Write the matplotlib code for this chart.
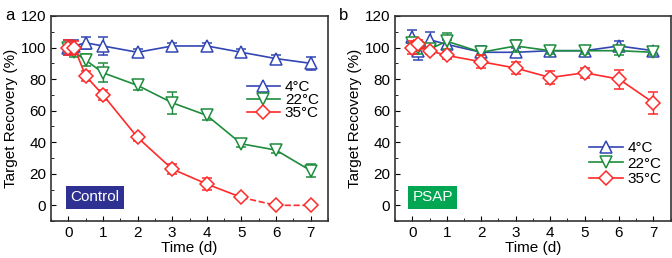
import numpy as np
import matplotlib.pyplot as plt

plt.rcParams['font.family'] = ['Liberation Sans', 'DejaVu Sans']
plt.rcParams['font.size'] = 11

days = [0, 0.17, 0.5, 1, 2, 3, 4, 5, 6, 7]
labels = ['4°C', '22°C', '35°C']

# panel a (Control)
a_4 = [100, 101, 103, 101, 97, 101, 101, 97, 93, 90]
a_4_err = [5, 4, 4, 6, 2, 2, 2, 2, 2, 4]
a_22 = [100, 97, 92, 84, 76, 65, 57, 39, 35, 22]
a_22_err = [3, 3, 4, 6, 3, 7, 3, 2, 2, 4]
a_35 = [100, 100, 82, 70, 43, 23, 13.5, 5, 0, 0]
a_35_err = [5, 4, 3, 3, 2, 3, 4, 1, 0.5, 0.5]

# panel b (PSAP)
b_4 = [107, 98, 105, 102, 97, 97, 98, 98, 101, 98]
b_4_err = [4, 6, 5, 3, 4, 3, 3, 2, 3, 2]
b_22 = [103, 100, 99, 104, 97, 101, 98, 98, 98, 97]
b_22_err = [3, 4, 3, 5, 2, 4, 2, 2, 3, 2]
b_35 = [100, 102, 98, 95, 91, 87, 81, 84, 80, 65]
b_35_err = [4, 3, 2, 2, 4, 4, 4, 3, 6, 7]

blue = '#3246b4'
green = '#1e8c3c'
red = '#ff2a2a'

fig = plt.figure(figsize=(6.72, 2.58), dpi=100)
ax1 = fig.add_axes([0.076, 0.143, 0.412, 0.795])
ax2 = fig.add_axes([0.588, 0.143, 0.41, 0.795])

ekw = dict(mfc='white', mew=1.1, lw=1.2, capsize=3.5, elinewidth=1, capthick=1)


def draw(ax, s4, e4, s22, e22, s35, e35, dashed_tail):
    ax.errorbar(days, s4, yerr=e4, color=blue, marker='^', ms=9, label=labels[0], zorder=3, **ekw)
    ax.errorbar(days, s22, yerr=e22, color=green, marker='v', ms=9, label=labels[1], zorder=4, **ekw)
    if dashed_tail:
        n = 8
        ax.errorbar(days[:n], s35[:n], yerr=e35[:n], color=red, marker='D', ms=7, label=labels[2],
                    zorder=5, **ekw)
        ax.plot(days[n - 1:], s35[n - 1:], color=red, ls='--', lw=1.2, zorder=4)
        ax.plot(days[n:], s35[n:], color=red, ls='none', marker='D', mfc='white', ms=7, mew=1.1, zorder=5)
    else:
        ax.errorbar(days, s35, yerr=e35, color=red, marker='D', ms=7, label=labels[2], zorder=5, **ekw)
    ax.set_xlim(-0.5, 7.5)
    ax.set_ylim(-10, 120)
    ax.set_xticks(range(8))
    ax.set_xticks(np.arange(-0.5, 7.6, 0.5), minor=True)
    ax.set_yticks(range(0, 121, 20))
    ax.set_yticks(range(-10, 121, 10), minor=True)
    ax.tick_params(direction='in', which='both', labelsize=11)
    ax.tick_params(which='major', length=3.5)
    ax.tick_params(which='minor', length=2)
    ax.set_xlabel('Time (d)', fontsize=11, labelpad=1)
    ax.set_ylabel('Target Recovery (%)', fontsize=11, labelpad=2)
    for sp in ax.spines.values():
        sp.set_linewidth(1.2)
        sp.set_color('#333333')


draw(ax1, a_4, a_4_err, a_22, a_22_err, a_35, a_35_err, True)
draw(ax2, b_4, b_4_err, b_22, b_22_err, b_35, b_35_err, False)


def legend(ax, anchor, spacing):
    h, l = ax.get_legend_handles_labels()
    h = [x[0] for x in h]
    ax.legend(h, l, loc='center right', bbox_to_anchor=anchor, frameon=False, fontsize=11,
              handlelength=2.2, handletextpad=0.3, labelspacing=spacing, borderaxespad=0.2)


legend(ax1, (1.0, 0.59), -0.05)
legend(ax2, (1.0, 0.28), 0.1)

ax1.text(0.05, 5, 'Control', color='white', fontsize=11, ha='left', va='center',
         bbox=dict(boxstyle='square,pad=0.3', fc='#2e3192', ec='none'))
ax2.text(0.0, 5, 'PSAP', color='white', fontsize=11, ha='left', va='center',
         bbox=dict(boxstyle='square,pad=0.3', fc='#00a651', ec='none'))

fig.text(0.008, 0.97, 'a', fontsize=12, va='top')
fig.text(0.505, 0.97, 'b', fontsize=12, va='top')

fig.savefig('out.png', dpi=100)
